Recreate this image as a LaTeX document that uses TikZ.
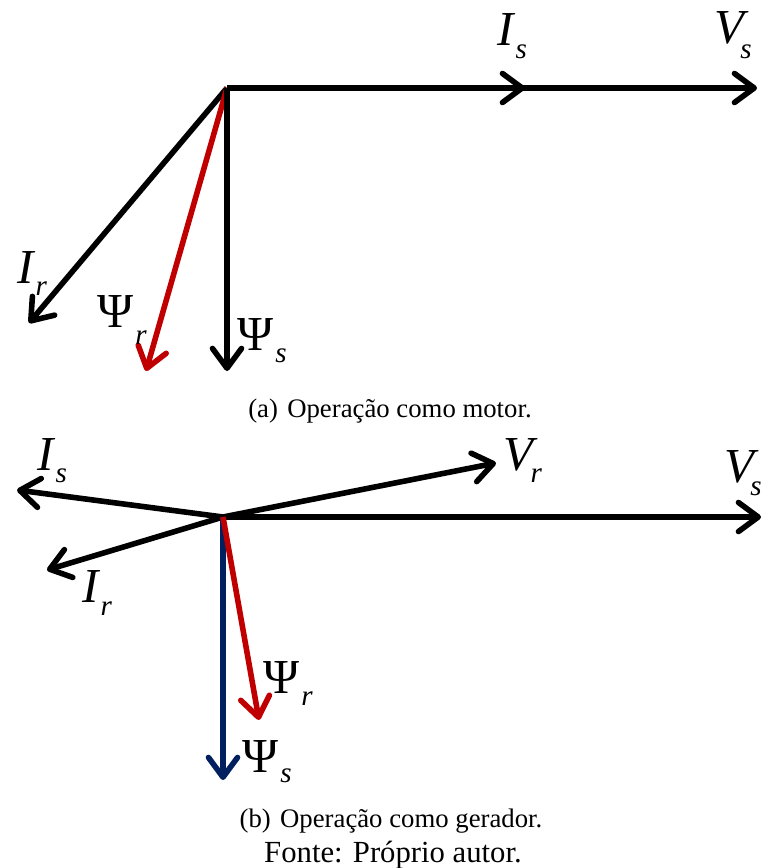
\documentclass[tikz,border=0pt]{standalone}
\usepackage{fontspec}
\setmainfont{Liberation Serif}
\usetikzlibrary{arrows.meta}
\definecolor{vred}{HTML}{C00000}
\definecolor{vnavy}{HTML}{002060}
\newcommand\phlab[4]{{\fontsize{21}{21}\selectfont #1}\kern#3\raisebox{-#4}{\fontsize{12.5}{12.5}\selectfont\itshape #2}}
\begin{document}
\begin{tikzpicture}[x=0.43pt,y=-0.43pt,
  phasor/.style={line width=2.4pt,-{Straight Barb[length=8.5pt,width=12.5pt,round]}},
  lbl/.style={anchor=base west,inner sep=0pt,outer sep=0pt},
  subcap/.style={anchor=base,inner sep=0pt,font=\fontsize{11.5}{13}\selectfont}]
\useasboundingbox (0,0) rectangle (765,868);
% ---------- (a) motor ----------
\coordinate (Oa) at (227,88);
\coordinate (VsA) at (757,88);
\coordinate (IsA) at (525,88);
\coordinate (IrA) at (29,323);
\coordinate (PrA) at (146,371);
\coordinate (PsA) at (227,371);
\draw[phasor] (Oa) -- (VsA);
\draw[phasor] (Oa) -- (IsA);
\draw[phasor] (Oa) -- (IrA);
\draw[phasor,vred] (Oa) -- (PrA);
\draw[phasor] (Oa) -- (PsA);
\node[lbl] (lIsA) at (497,45) {\phlab{\itshape I}{s}{1pt}{5.6pt}};
\node[lbl] (lVsA) at (714,43) {\phlab{\itshape V}{s}{-1.5pt}{6.5pt}};
\node[lbl] (lIrA) at (17,283) {\phlab{\itshape I}{r}{1pt}{5.2pt}};
\node[lbl] (lPrA) at (97,327) {\phlab{Ψ}{r}{1pt}{7.7pt}};
\node[lbl] (lPsA) at (237,350) {\phlab{Ψ}{s}{1pt}{5.2pt}};
\node[subcap] (capA) at (390,417) {(a)\hspace{4pt}Operação como motor.};
% ---------- (b) gerador ----------
\coordinate (Ob) at (223,517);
\coordinate (IsB) at (17,490);
\coordinate (IrB) at (47,570);
\coordinate (VrB) at (496,463);
\coordinate (VsB) at (761,517);
\coordinate (PrB) at (259,720);
\coordinate (PsB) at (223,780);
\draw[phasor] (Ob) -- (IsB);
\draw[phasor] (Ob) -- (IrB);
\draw[phasor] (Ob) -- (VrB);
\draw[phasor] (Ob) -- (VsB);
\draw[phasor,vnavy] (Ob) -- (PsB);
\draw[phasor,vred] (Ob) -- (PrB);
\node[lbl] (lIsB) at (37,470) {\phlab{\itshape I}{s}{1pt}{5.2pt}};
\node[lbl] (lIrB) at (82,602) {\phlab{\itshape I}{r}{1pt}{5.6pt}};
\node[lbl] (lVrB) at (503,470) {\phlab{\itshape V}{r}{-1pt}{5.2pt}};
\node[lbl] (lVsB) at (724,482) {\phlab{\itshape V}{s}{-1.5pt}{6pt}};
\node[lbl] (lPrB) at (263,693) {\phlab{Ψ}{r}{1pt}{5.2pt}};
\node[lbl] (lPsB) at (242,772) {\phlab{Ψ}{s}{1pt}{4.7pt}};
\node[subcap] (capB) at (391,827) {(b)\hspace{4pt}Operação como gerador.};
\node[anchor=base,inner sep=0pt,font=\fontsize{13.2}{15}\selectfont] (fonte) at (393,862) {Fonte: Próprio autor.};
\end{tikzpicture}
\end{document}
